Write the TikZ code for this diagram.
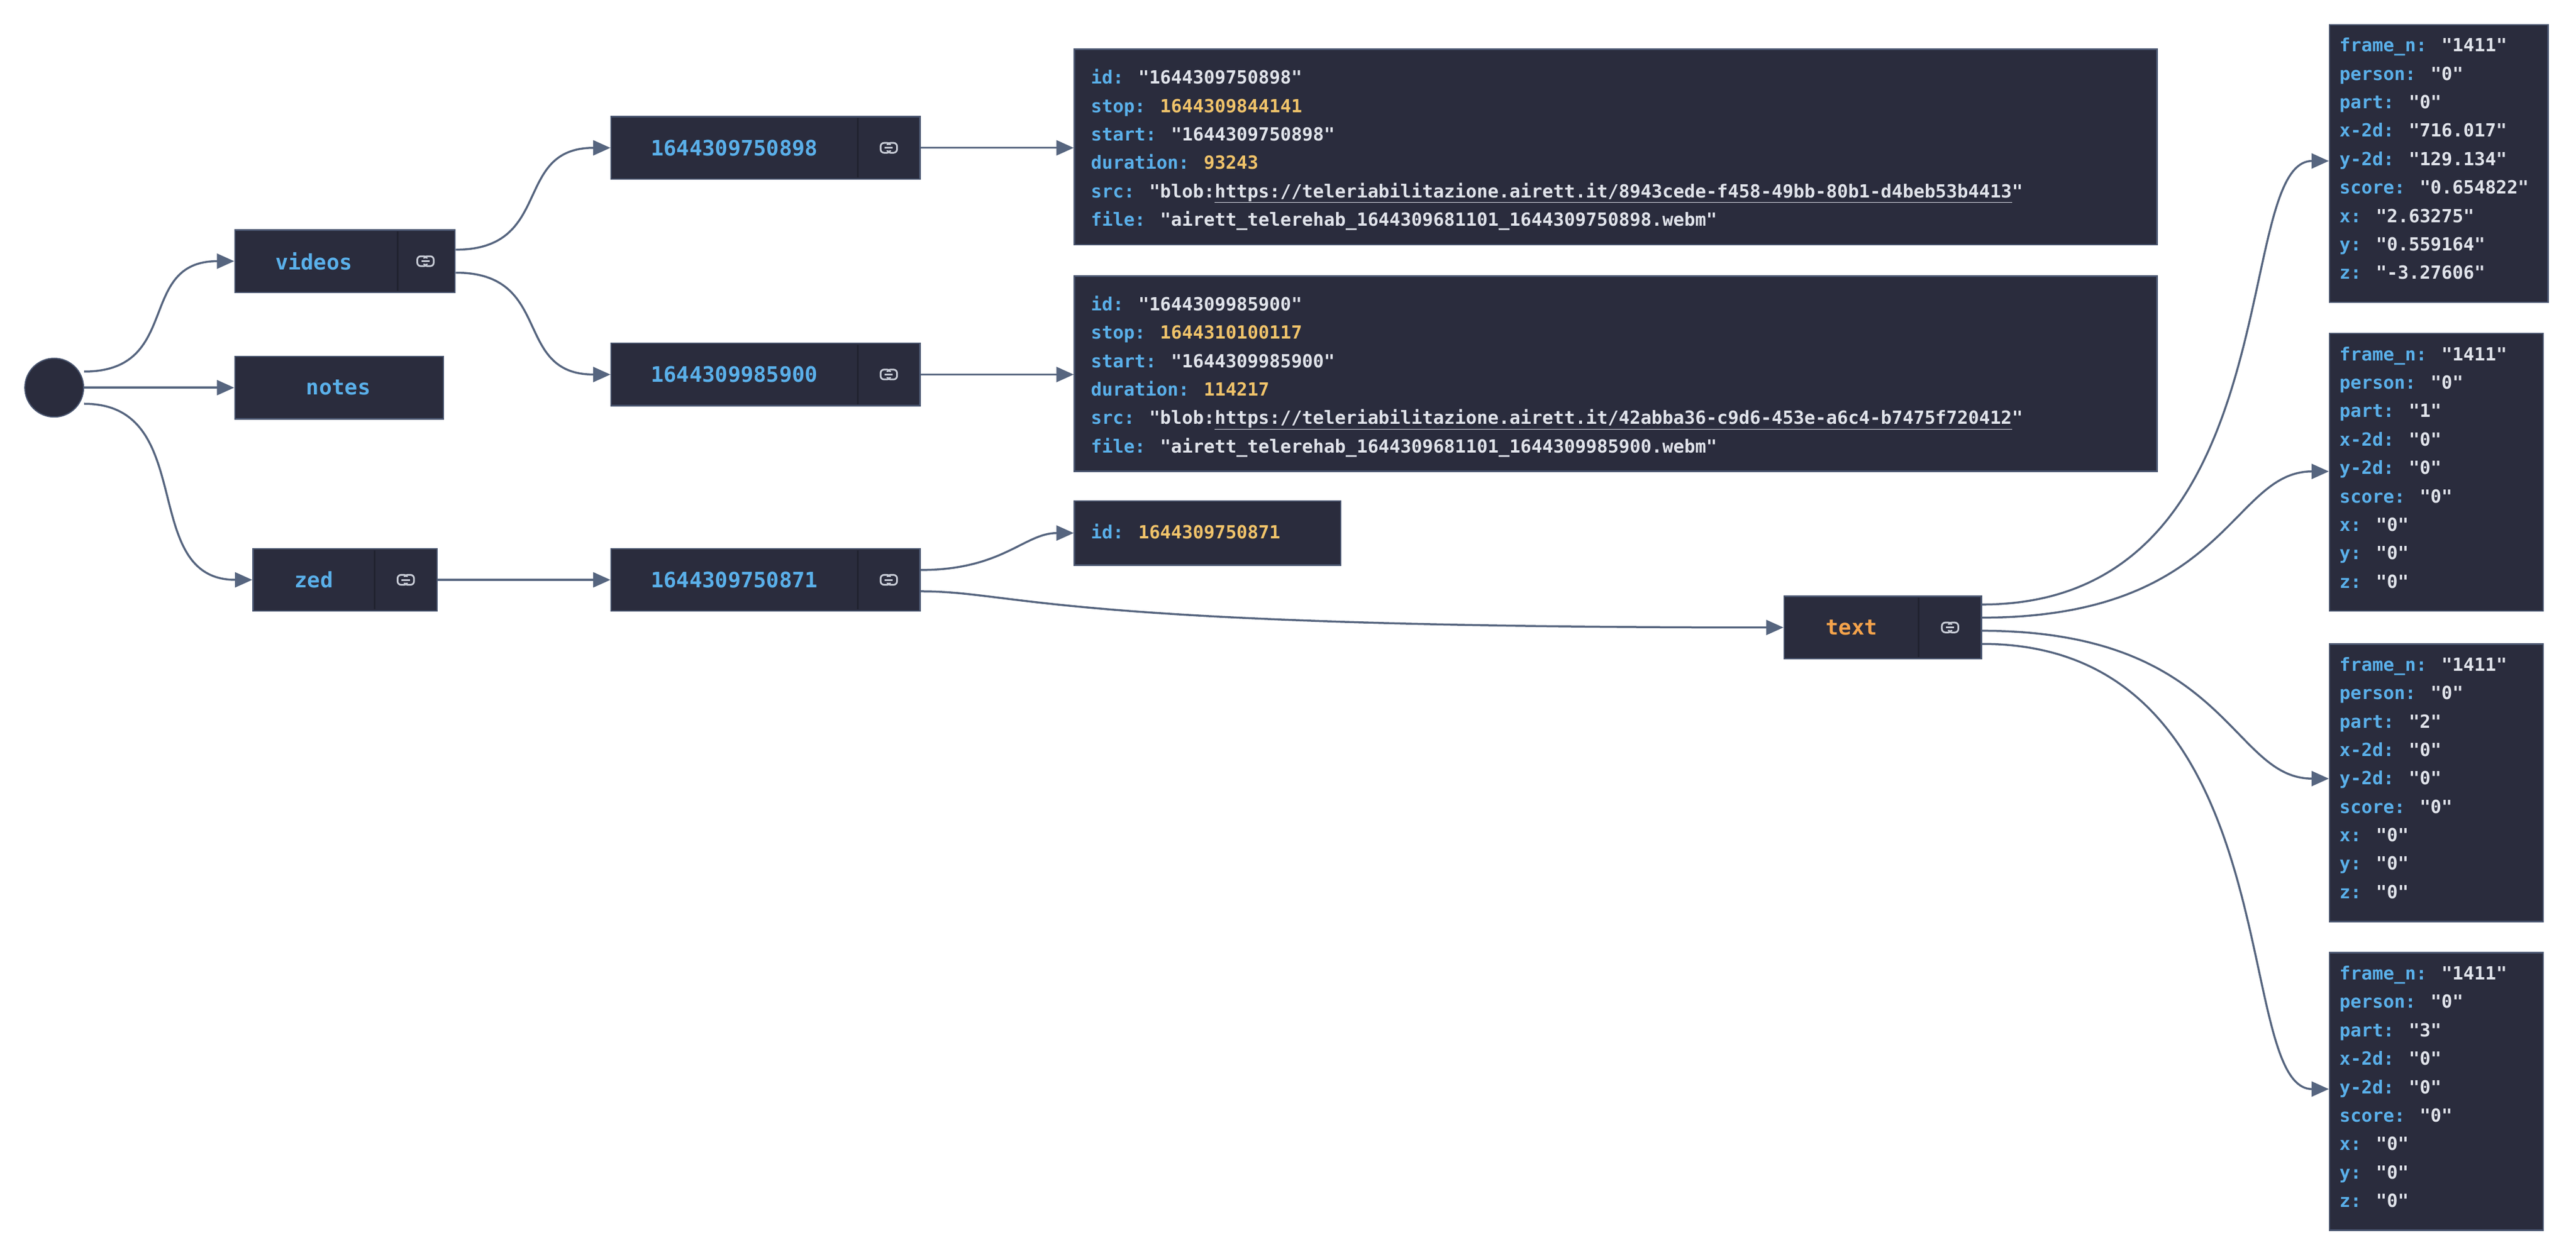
\documentclass[tikz,border=0pt]{standalone}
\usepackage{fontspec}
\setmainfont{DejaVu Sans Mono}[Ligatures=TeXOff]
\usetikzlibrary{fit,arrows.meta,calc}
\definecolor{bg}{HTML}{2A2C3D}
\definecolor{bd}{HTML}{4A5670}
\definecolor{dv}{HTML}{20222F}
\definecolor{edgec}{HTML}{56657F}
\definecolor{keyc}{HTML}{5AB0EA}
\definecolor{strc}{HTML}{E0E3EA}
\definecolor{numc}{HTML}{F0C36A}
\definecolor{orc}{HTML}{F5A34B}
\definecolor{iconc}{HTML}{C8CCD6}
\newcommand\qq{\symbol{34}}
\newcommand\K[1]{\textcolor{keyc}{#1}}
\newcommand\Sv[1]{\textcolor{strc}{\qq#1\qq}}
\newcommand\Nv[1]{\textcolor{numc}{#1}}
\tikzset{
  objbox/.style={draw=bd,line width=2.5pt,fill=bg,inner sep=0pt},
  lbl/.style={font=\fontsize{37}{40}\selectfont\bfseries,text=keyc},
  div/.style={draw=dv,line width=3pt},
  content/.style={anchor=north west,inner sep=0pt,align=left,font=\fontsize{31.5}{49.4}\selectfont\bfseries},
  edge/.style={draw=edgec,line width=3.5pt,-{Triangle[length=30pt,width=26pt]}},
  icon/.style={draw=iconc,line width=3pt,rounded corners=6pt},
}
\newcommand\obj[5]{\node[objbox,fit={(#2,#3)(#4,#5)}] (#1) {};}
\newcommand\linkicon[2]{%
  \draw[icon] (#1-5,#2-3) rectangle (#1+1,#2+3);
  \draw[icon] (#1-1,#2-3) rectangle (#1+5,#2+3);
  \fill[bg] (#1-2.2,#2-1.6) rectangle (#1+2.2,#2+1.6);
  \draw[draw=iconc,line width=3pt] (#1-2.5,#2) -- (#1+2.5,#2);}
\begin{document}
\begin{tikzpicture}[x=2.853pt,y=-2.853pt]
\useasboundingbox[fill=white] (0,0) rectangle (1568,765);
% root
\node[circle,fill=bg,draw=bd,line width=2pt,minimum size=102pt,inner sep=0] (root) at (33,236) {};
% nodes
\obj{videos}{143}{140}{277}{178}
\draw[div] (242,141)--(242,177);
\node[lbl] (videosl) at (191,159) {videos};
\linkicon{259}{159}
\obj{notes}{143}{217}{270}{255}
\node[lbl] (notesl) at (206,236) {notes};
\obj{zed}{154}{334}{266}{372}
\draw[div] (228,335)--(228,371);
\node[lbl] (zedl) at (191,353) {zed};
\linkicon{247}{353}
\obj{n898}{372}{71}{560}{109}
\draw[div] (522,72)--(522,108);
\node[lbl] (n898l) at (447,90) {1644309750898};
\linkicon{541}{90}
\obj{n900}{372}{209}{560}{247}
\draw[div] (522,210)--(522,246);
\node[lbl] (n900l) at (447,228) {1644309985900};
\linkicon{541}{228}
\obj{n871}{372}{334}{560}{372}
\draw[div] (522,335)--(522,371);
\node[lbl] (n871l) at (447,353) {1644309750871};
\linkicon{541}{353}
\obj{textn}{1086}{363}{1206}{401}
\draw[div] (1168,364)--(1168,400);
\node[lbl,text=orc] (textl) at (1127,382) {text};
\linkicon{1187}{382}
% content boxes
\obj{box1}{654}{30}{1313}{149}
\node[content] (box1t) at (664,42) {\K{id:} \Sv{1644309750898}\\
\K{stop:} \Nv{1644309844141}\\
\K{start:} \Sv{1644309750898}\\
\K{duration:} \Nv{93243}\\
\K{src:} \Sv{blob:\underline{https://teleriabilitazione.airett.it/8943cede-f458-49bb-80b1-d4beb53b4413}}\\
\K{file:} \Sv{airett\_telerehab\_1644309681101\_1644309750898.webm}};
\obj{box2}{654}{168}{1313}{287}
\node[content] (box2t) at (664,180) {\K{id:} \Sv{1644309985900}\\
\K{stop:} \Nv{1644310100117}\\
\K{start:} \Sv{1644309985900}\\
\K{duration:} \Nv{114217}\\
\K{src:} \Sv{blob:\underline{https://teleriabilitazione.airett.it/42abba36-c9d6-453e-a6c4-b7475f720412}}\\
\K{file:} \Sv{airett\_telerehab\_1644309681101\_1644309985900.webm}};
\obj{idbox}{654}{305}{816}{344}
\node[content] (idboxt) at (664,319) {\K{id:} \Nv{1644309750871}};
% right boxes
\obj{rb1}{1418}{15}{1551}{184}
\node[content] (rb1t) at (1424,23) {\K{frame\_n:} \Sv{1411}\\
\K{person:} \Sv{0}\\ \K{part:} \Sv{0}\\ \K{x-2d:} \Sv{716.017}\\
\K{y-2d:} \Sv{129.134}\\ \K{score:} \Sv{0.654822}\\ \K{x:} \Sv{2.63275}\\
\K{y:} \Sv{0.559164}\\ \K{z:} \Sv{-3.27606}};
\obj{rb2}{1418}{203}{1548}{372}
\node[content] (rb2t) at (1424,211) {\K{frame\_n:} \Sv{1411}\\
\K{person:} \Sv{0}\\ \K{part:} \Sv{1}\\ \K{x-2d:} \Sv{0}\\
\K{y-2d:} \Sv{0}\\ \K{score:} \Sv{0}\\ \K{x:} \Sv{0}\\
\K{y:} \Sv{0}\\ \K{z:} \Sv{0}};
\obj{rb3}{1418}{392}{1548}{561}
\node[content] (rb3t) at (1424,400) {\K{frame\_n:} \Sv{1411}\\
\K{person:} \Sv{0}\\ \K{part:} \Sv{2}\\ \K{x-2d:} \Sv{0}\\
\K{y-2d:} \Sv{0}\\ \K{score:} \Sv{0}\\ \K{x:} \Sv{0}\\
\K{y:} \Sv{0}\\ \K{z:} \Sv{0}};
\obj{rb4}{1418}{580}{1548}{749}
\node[content] (rb4t) at (1424,588) {\K{frame\_n:} \Sv{1411}\\
\K{person:} \Sv{0}\\ \K{part:} \Sv{3}\\ \K{x-2d:} \Sv{0}\\
\K{y-2d:} \Sv{0}\\ \K{score:} \Sv{0}\\ \K{x:} \Sv{0}\\
\K{y:} \Sv{0}\\ \K{z:} \Sv{0}};
% edges
\draw[edge] ([yshift=28pt]root.east) .. controls +(60,0) and +(-60,0) .. (videos.west);
\draw[edge] (root.east) -- (notes.west);
\draw[edge] ([yshift=-28pt]root.east) .. controls +(70,0) and +(-70,0) .. (zed.west);
\draw[edge] ($(videos.east)+(0,-7)$) .. controls +(60,0) and +(-60,0) .. (n898.west);
\draw[edge] ($(videos.east)+(0,7)$) .. controls +(60,0) and +(-60,0) .. (n900.west);
\draw[edge] (zed.east) -- (n871.west);
\draw[edge] (n898.east) -- (box1.west|-n898.east);
\draw[edge] (n900.east) -- (box2.west|-n900.east);
\draw[edge] ($(n871.east)+(0,-6)$) .. controls +(50,0) and +(-30,0) .. (idbox.west);
\draw[edge] ($(n871.east)+(0,7)$) .. controls +(60,0) and +(-450,0) .. (textn.west);
\draw[edge] ($(textn.east)+(0,-14)$) .. controls +(190,0) and +(-60,0) .. ($(rb1.west)+(0,-1.5)$);
\draw[edge] ($(textn.east)+(0,-6)$) .. controls +(150,0) and +(-60,0) .. ($(rb2.west)+(0,-0.5)$);
\draw[edge] ($(textn.east)+(0,2)$) .. controls +(150,0) and +(-60,0) .. ($(rb3.west)+(0,-2.5)$);
\draw[edge] ($(textn.east)+(0,10)$) .. controls +(190,0) and +(-60,0) .. ($(rb4.west)+(0,-1.5)$);
\end{tikzpicture}
\end{document}
